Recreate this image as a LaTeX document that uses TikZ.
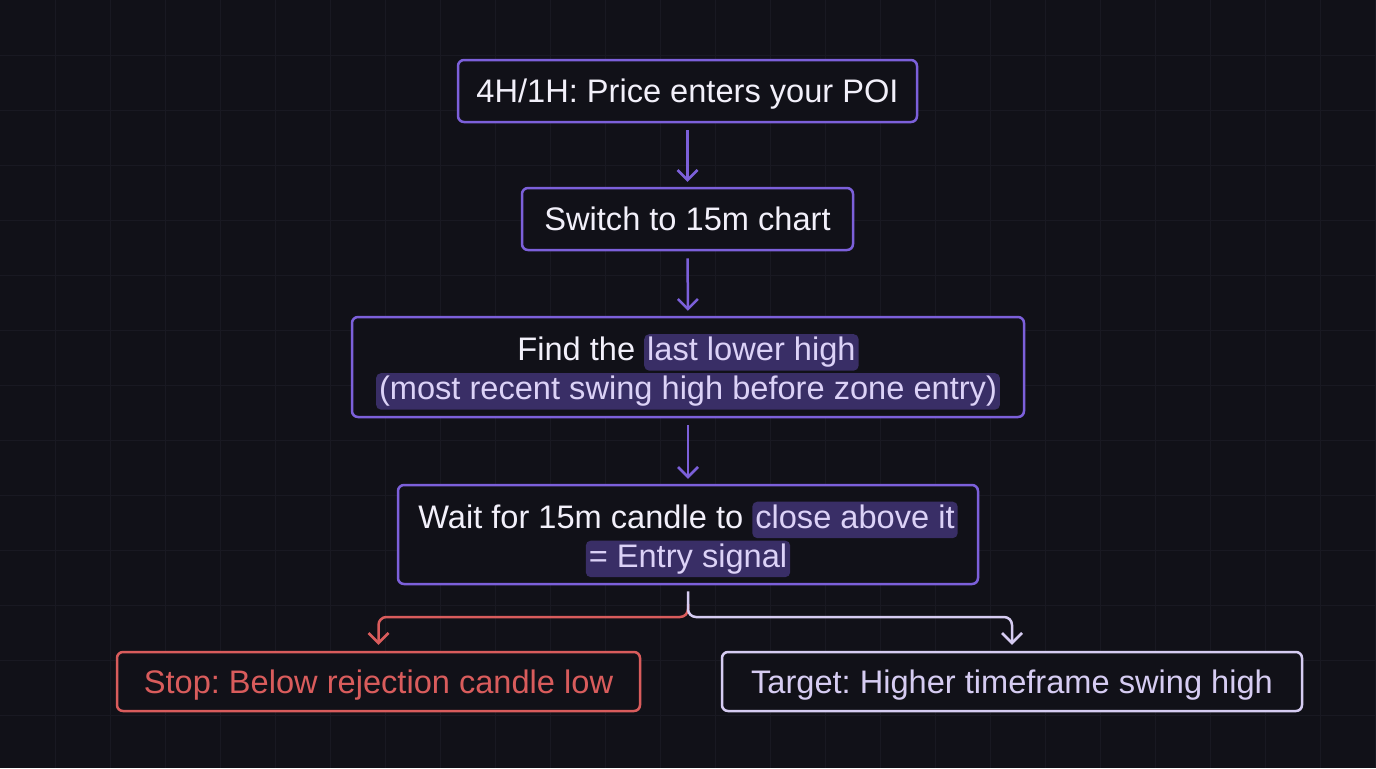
\documentclass[tikz,border=0pt]{standalone}
\usepackage{fontspec}
\setmainfont{Liberation Sans}
\usetikzlibrary{arrows.meta}
\definecolor{bg}{HTML}{111118}
\definecolor{gridc}{HTML}{191922}
\definecolor{purp}{HTML}{7C60DA}
\definecolor{txt}{HTML}{F2F0FA}
\definecolor{hlfill}{HTML}{392E66}
\definecolor{hltext}{HTML}{DCD2F7}
\definecolor{redc}{HTML}{D95C5C}
\definecolor{lav}{HTML}{D6CCF2}
\frenchspacing
\newcommand{\hlt}[1]{\tikz[baseline=(h.base)]\node[shape=rectangle,draw=none,fill=hlfill,text=hltext,rounded corners=2.5pt,inner xsep=1.5pt,inner ysep=0pt,outer sep=0pt,text height=0.82em,text depth=0.3em,minimum width=0pt,minimum height=0pt,anchor=base,align=center](h){#1};}
\tikzset{
  gridline/.style={draw=gridc,line width=0.5pt},
  box/.style={draw=purp,fill=bg,line width=1.25pt,rounded corners=3pt,text=txt,align=center,inner sep=0pt,
    text depth=0pt,font=\fontsize{16.3}{19.5}\selectfont},
  redbox/.style={box,draw=redc,text=redc},
  lavbox/.style={box,draw=lav,text=lav},
  tip/.style={-{Straight Barb[length=5pt,width=10pt]}},
  parrow/.style={tip,draw=purp,line width=1.25pt,shorten <=3.5pt,shorten >=2.5pt},
  redarrow/.style={tip,draw=redc,line width=1.25pt,rounded corners=4pt,shorten >=3pt},
  lavarrow/.style={tip,draw=lav,line width=1.25pt,rounded corners=4pt,shorten <=3pt,shorten >=3pt},
}
\begin{document}
\begin{tikzpicture}[x=0.5pt,y=-0.5pt]
\useasboundingbox (0,0) rectangle (1376,768);
\fill[bg] (0,0) rectangle (1376,768);
\foreach \x in {55,110,...,1375} \draw[gridline] (\x,0) -- (\x,768);
\foreach \y in {55,110,...,767} \draw[gridline] (0,\y) -- (1376,\y);

\node[box,minimum width=229.5pt,minimum height=31pt] (b1) at (687.5,91) {4H/1H: Price enters your POI};
\node[box,minimum width=165.5pt,minimum height=31pt] (b2) at (687.5,219) {Switch to 15m chart};
\node[box,minimum width=336pt,minimum height=50pt] (b3) at (688,367)
  {Find the \hlt{last lower high}\\\hlt{(most recent swing high before zone entry)}};
\node[box,minimum width=290pt,minimum height=49.5pt] (b4) at (688,534.5)
  {Wait for 15m candle to \hlt{close above it}\\\hlt{= Entry signal}};
\node[redbox,minimum width=261.5pt,minimum height=29.5pt] (stop) at (378.5,681.5) {Stop: Below rejection candle low};
\node[lavbox,minimum width=290pt,minimum height=29.5pt] (target) at (1012,681.5) {Target: Higher timeframe swing high};

\coordinate (split) at (688,617);
\coordinate (rs) at (688,604);

\draw[parrow] (b1.south) -- (b2.north);
\draw[parrow] (b2.south) -- (b3.north);
\draw[parrow] (b3.south) -- (b4.north);
\draw[redarrow] (rs) -- (split) -| (stop.north);
\draw[lavarrow] (b4.south) -- (split) -| (target.north);
\end{tikzpicture}
\end{document}
